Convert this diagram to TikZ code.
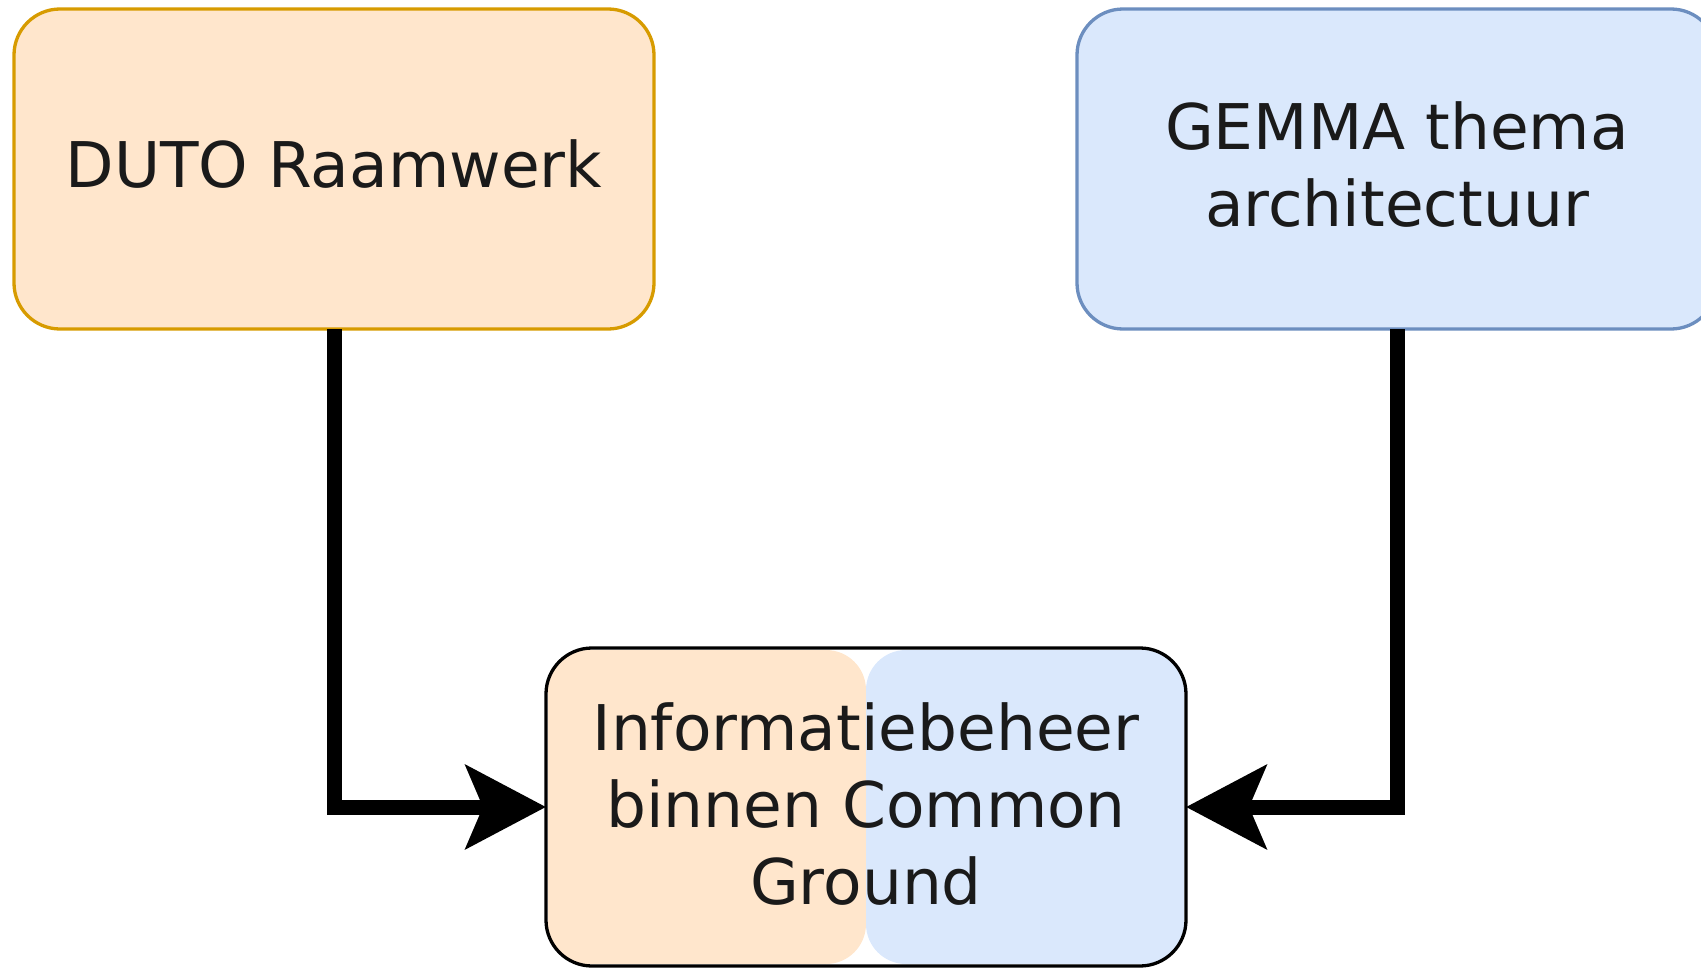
\documentclass[tikz,border=0pt]{standalone}
\usepackage{fontspec}
\setmainfont{DejaVu Sans}
\usetikzlibrary{arrows.meta}
\definecolor{orfill}{HTML}{FFE6CC}
\definecolor{ordraw}{HTML}{D79B00}
\definecolor{blfill}{HTML}{DAE8FC}
\definecolor{bldraw}{HTML}{6C8EBF}
\definecolor{txt}{HTML}{1A1A1A}
\begin{document}
\begin{tikzpicture}[x=1pt,y=-1pt,
  box/.style={rounded corners=46pt, line width=3.3pt, minimum width=640pt, minimum height=320pt,
    inner sep=0pt, outer sep=0pt},
  lbl/.style={align=center, text=txt, inner sep=0pt, font=\fontsize{63}{77}\selectfont},
  conn/.style={line width=15pt, -{Stealth[length=80pt,width=83pt,inset=17pt]}}]
\useasboundingbox (0,0) rectangle (1701,969);
\node[box, draw=ordraw, fill=orfill] (duto) at (334,169) {};
\node[lbl] (dutotext) at ([yshift=5pt]duto.center) {DUTO Raamwerk};
\node[box, draw=bldraw, fill=blfill] (gemma) at (1397,169) {};
\node[lbl] (gemmatext) at ([yshift=4pt]gemma.center) {GEMMA thema\\architectuur};
\fill[orfill, rounded corners=40pt] (548,650) rectangle (866,964);
\fill[blfill, rounded corners=40pt] (866,650) rectangle (1184,964);
\node[box, draw=black, minimum height=318pt] (bot) at (866,807) {};
\node[lbl] (bottext) at ([yshift=3pt]bot.center) {Informatiebeheer\\binnen Common\\Ground};
\draw[conn] (duto.south) |- (bot.west);
\draw[conn] (gemma.south) |- (bot.east);
\end{tikzpicture}
\end{document}
